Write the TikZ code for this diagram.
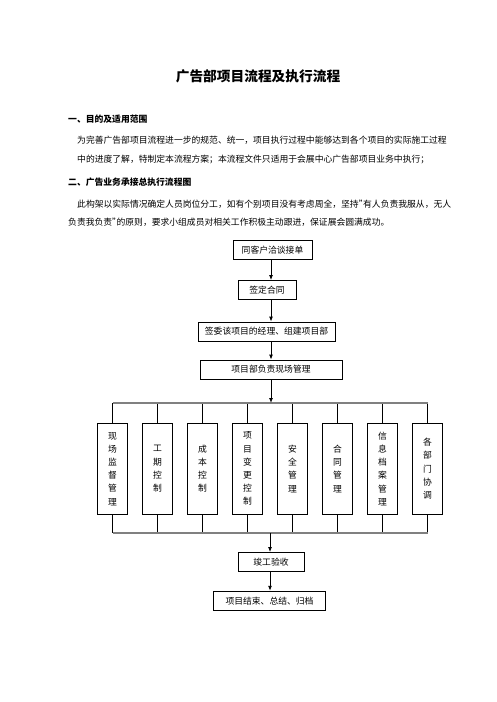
\documentclass[tikz,border=0pt]{standalone}
\usepackage{fontspec}
\setmainfont{Noto Sans CJK SC}
\usetikzlibrary{arrows.meta}

% 半角右引号
\newcommand{\halfquote}{\makebox[4.4pt][l]{”}}

\tikzset{
  box/.style={draw,line width=0.8pt,inner sep=0pt,minimum height=19pt,%
    font=\fontsize{8.8pt}{10pt}\selectfont},
  col/.style={draw,line width=0.8pt,inner sep=0pt,minimum width=30.4pt,%
    minimum height=91pt,align=center,font=\fontsize{8.8pt}{13.2pt}\selectfont},
  arr/.style={-{Latex[length=5pt,width=4pt]},line width=0.9pt},
  bar/.style={line width=1.8pt,gray},
  stub/.style={line width=0.8pt},
  txt/.style={anchor=west,inner sep=0pt,font=\fontsize{8.8pt}{10pt}\selectfont},
  head/.style={anchor=west,inner sep=0pt,font=\bfseries\fontsize{8.8pt}{10pt}\selectfont},
}

\begin{document}
\begin{tikzpicture}[x=1pt,y=-1pt,inner sep=0pt]
      % 页面范围
      \useasboundingbox (0,0) rectangle (496,702);
      \fill[white] (0,0) rectangle (496,702);

      % 标题与说明文字
      \node[font=\bfseries\fontsize{13.7pt}{15pt}\selectfont] (title) at (258,76){%
        广告部项目流程及执行流程};
      \node[head] (h1) at (68,119.5){一、目的及适用范围};
      \node[txt] (l1) at (77,140){为完善广告部项目流程进一步的规范、统一，项目执行过程中能够达到各个项目的实际施工过程};
      \node[txt] (l2) at (77,159){中的进度了解，特制定本流程方案；本流程文件只适用于会展中心广告部项目业务中执行；};
      \node[head] (h2) at (68,182){二、广告业务承接总执行流程图};
      \node[txt] (l3) at (77,204){此构架以实际情况确定人员岗位分工，如有个别项目没有考虑周全，坚持\halfquote 有人负责我服从，无人};
      \node[txt] (l4) at (68,222.5){负责我负责\halfquote 的原则，要求小组成员对相关工作积极主动跟进，保证展会圆满成功。};

      % 主线
      \coordinate (axis) at (271,0);
      \node[box,minimum width=79pt] (jd) at (272.5,250){同客户洽谈接单};
      \node[box,minimum width=58pt] (ht) at (267,290){签定合同};
      \node[box,minimum width=137pt] (xmb) at (266.5,331.5){签委该项目的经理、组建项目部};
      \node[box,minimum width=142pt] (xc) at (271,369.5){项目部负责现场管理};

      % 各项管理
      \foreach \t [count=\i] in {{现\\场\\监\\督\\管\\理},{工\\期\\控\\制},%
        {成\\本\\控\\制},{项\\目\\变\\更\\控\\制},{安\\全\\管\\理},%
        {合\\同\\管\\理},{信\\息\\档\\案\\管\\理},{各\\部\\门\\协\\调}}
        \node[col] (c\i) at ({112.5+45*(\i-1)},468.75){\t};

      \node[box,minimum width=66pt] (ys) at (271,562){竣工验收};
      \node[box,minimum width=112.5pt] (gd) at (269.5,600.7){项目结束、总结、归档};

      % 分支横线
      \coordinate (top) at (271,403);
      \coordinate (bot) at (270,533);
      \foreach \i in {1,...,8}{
        \draw[stub] (c\i.north) -- (c\i.north |- top);
        \draw[stub] (c\i.south) -- (c\i.south |- bot);
      }
      \draw[bar] (c1.north |- top) -- (c8.north |- top);
      \draw[bar] (c1.south |- bot) -- (c8.south |- bot);

      % 箭头
      \draw[arr] (axis |- jd.south) -- (axis |- ht.north);
      \draw[arr] (axis |- ht.south) -- (axis |- xmb.north);
      \draw[arr] (axis |- xmb.south) -- (axis |- xc.north);
      \draw[arr] (axis |- xc.south) -- (top);
      \draw[arr] (bot) -- (bot |- ys.north);
      \draw[arr] (bot |- ys.south) -- (bot |- gd.north);
    \end{tikzpicture}
\end{document}
